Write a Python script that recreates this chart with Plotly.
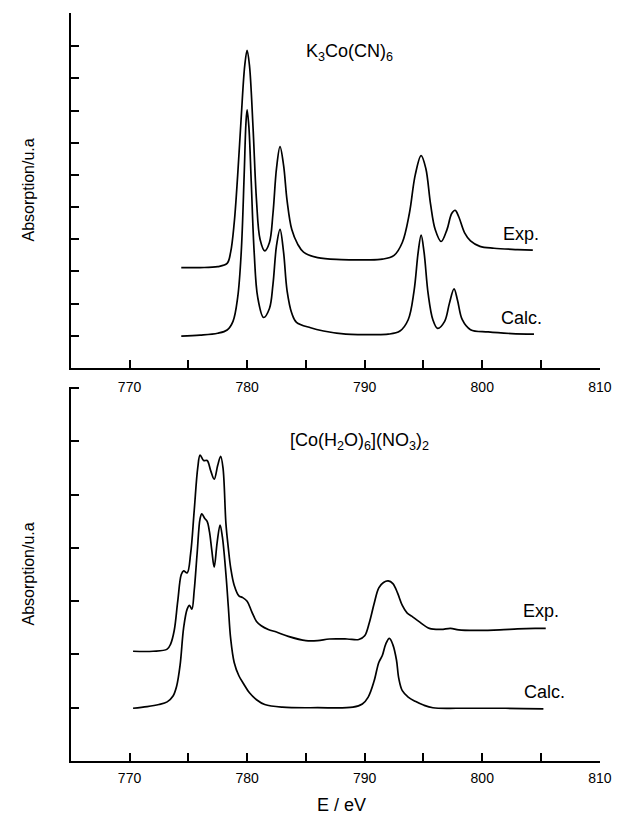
import plotly.graph_objects as go

# ---------------- data ----------------
# Top panel: K3Co(CN)6
top_exp_e = [774.4, 776, 777.5, 778.3, 778.6, 778.9, 779.2, 779.5, 779.8, 780.0, 780.2, 780.5, 780.8, 781.1,
             781.5, 781.9, 782.2, 782.5, 782.8, 783.1, 783.4, 783.8, 784.3, 784.8, 786, 788, 790, 791.5,
             792.5, 793.2, 793.8, 794.3, 794.8, 795.2, 795.6, 796.0, 796.5, 797.0, 797.4, 797.7, 798.0,
             798.5, 799.0, 799.8, 801, 803, 804.3]
top_exp_a = [3.12, 3.12, 3.15, 3.25, 3.6, 4.5, 6.0, 7.8, 9.4, 9.87, 9.4, 7.5, 5.2, 4.0,
             3.64, 3.9, 4.8, 6.2, 6.88, 6.3, 5.2, 4.3, 3.85, 3.6, 3.43, 3.37, 3.36, 3.38,
             3.5, 3.9, 4.8, 6.0, 6.6, 6.2, 5.1, 4.3, 3.93, 4.3, 4.8, 4.9, 4.7,
             4.2, 3.95, 3.78, 3.72, 3.68, 3.66]

top_calc_e = [774.4, 776, 777.5, 778.3, 778.8, 779.2, 779.5, 779.75, 779.9, 780.0, 780.15, 780.35, 780.6,
              780.9, 781.4, 781.9, 782.2, 782.5, 782.8, 783.1, 783.4, 783.8, 784.2, 785.4, 786.5, 788.4,
              790, 792, 793, 793.7, 794.2, 794.55, 794.8, 795.05, 795.4, 795.8, 796.2, 796.8, 797.2,
              797.6, 797.9, 798.3, 799.0, 800.5, 802.5, 804.4]
top_calc_a = [0.99, 1.02, 1.08, 1.18, 1.45, 2.2, 3.6, 6.0, 7.6, 8.02, 7.5, 5.8, 3.6,
              2.2, 1.57, 1.85, 2.6, 3.8, 4.31, 3.6, 2.4, 1.7, 1.42, 1.25, 1.15, 1.05,
              1.04, 1.05, 1.15, 1.5, 2.4, 3.6, 4.13, 3.6, 2.3, 1.5, 1.23, 1.45, 2.0,
              2.46, 2.1, 1.5, 1.19, 1.12, 1.07, 1.05]

# Bottom panel: [Co(H2O)6](NO3)2
bot_exp_e = [770.3, 772.0, 773.2, 773.5, 773.8, 774.1, 774.4, 774.6, 774.9, 775.2, 775.5, 775.8, 776.0,
             776.3, 776.6, 776.9, 777.2, 777.5, 777.75, 777.95, 778.2, 778.4, 778.6, 778.9, 779.3, 779.6,
             780.0, 780.4, 780.8, 781.2, 781.8, 782.5, 783.5, 785.0, 786.0, 787.0, 788.5, 789.5, 790.0,
             790.4, 790.8, 791.2, 791.6, 792.0, 792.4, 792.8, 793.2, 793.6, 794.0, 794.6, 795.5, 796.5,
             797.3, 798.0, 799.5, 801.5, 803.0, 804.5, 805.4]
bot_exp_a = [2.06, 2.06, 2.1, 2.2, 2.45, 3.0, 3.5, 3.57, 3.53, 3.9, 4.7, 5.5, 5.74,
             5.64, 5.64, 5.45, 5.29, 5.55, 5.72, 5.5, 4.45, 4.0, 3.63, 3.3, 3.1, 3.07,
             3.0, 2.8, 2.62, 2.54, 2.47, 2.42, 2.34, 2.26, 2.26, 2.29, 2.29, 2.28, 2.35,
             2.6, 2.95, 3.25, 3.35, 3.38, 3.33, 3.15, 2.92, 2.78, 2.72, 2.62, 2.49, 2.47,
             2.49, 2.46, 2.45, 2.46, 2.48, 2.49, 2.49]

bot_calc_e = [770.3, 771.5, 772.5, 773.2, 773.7, 774.0, 774.3, 774.6, 774.9, 775.1, 775.3, 775.5, 775.75,
              776.0, 776.15, 776.4, 776.6, 776.8, 777.0, 777.2, 777.45, 777.7, 777.9, 778.2, 778.4, 778.6,
              778.9, 779.3, 779.7, 780.2, 780.8, 781.5, 783.0, 786.0, 789.0, 789.8, 790.3, 790.8, 791.2,
              791.5, 791.8, 792.1, 792.4, 792.7, 792.9, 793.2, 793.7, 794.3, 795.0, 795.8, 798.0, 802.0,
              805.2]
bot_calc_a = [0.99, 1.02, 1.06, 1.11, 1.22, 1.4, 1.8, 2.5, 2.85, 2.92, 2.85, 3.2, 3.9,
              4.55, 4.64, 4.55, 4.5, 4.3, 3.95, 3.64, 4.1, 4.43, 4.2, 3.5, 2.9, 2.3,
              1.85, 1.6, 1.45, 1.28, 1.15, 1.06, 1.01, 1.0, 1.01, 1.07, 1.2, 1.5, 1.85,
              1.98, 2.2, 2.3, 2.18, 1.9, 1.55, 1.32, 1.2, 1.12, 1.05, 1.0, 0.99, 0.99,
              0.98]

x_tick_vals = [770, 780, 790, 800, 810]
x_tick_text = ["770", "780", "790", "800", "810"]

# ---------------- figure ----------------
W, H = 635, 815
fig = go.Figure()
line = dict(color="black", width=1.7)
fig.add_trace(go.Scatter(x=top_exp_e, y=top_exp_a, mode="lines", line=line, line_shape="spline",
                         xaxis="x", yaxis="y", showlegend=False))
fig.add_trace(go.Scatter(x=top_calc_e, y=top_calc_a, mode="lines", line=line, line_shape="spline",
                         xaxis="x", yaxis="y", showlegend=False))
fig.add_trace(go.Scatter(x=bot_exp_e, y=bot_exp_a, mode="lines", line=line, line_shape="spline",
                         xaxis="x2", yaxis="y2", showlegend=False))
fig.add_trace(go.Scatter(x=bot_calc_e, y=bot_calc_a, mode="lines", line=line, line_shape="spline",
                         xaxis="x2", yaxis="y2", showlegend=False))

xdom = [72 / W, 611 / W]
top_dom = [1 - 368 / H, 1 - 13 / H]
bot_dom = [1 - 761 / H, 1 - 387 / H]

FONT = "Liberation Sans, Arial"
tickfont = dict(family=FONT, size=14, color="black")
xcommon = dict(range=[765, 810.05], tickvals=x_tick_vals, ticktext=x_tick_text,
               ticks="inside", ticklen=8, tickwidth=1.5, tickcolor="black",
               minor=dict(dtick=5, tick0=765, ticks="inside", ticklen=8, tickwidth=1.5, tickcolor="black"),
               showline=True, linecolor="black", linewidth=2, showgrid=False, zeroline=False,
               tickfont=tickfont, domain=xdom, fixedrange=True)
ycommon = dict(ticks="inside", ticklen=8, tickwidth=1.5, tickcolor="black", dtick=1, tick0=0,
               showticklabels=False, showline=True, linecolor="black", linewidth=2,
               showgrid=False, zeroline=False, fixedrange=True)

fig.update_layout(
    width=W, height=H, margin=dict(l=0, r=0, t=0, b=0),
    paper_bgcolor="white", plot_bgcolor="white",
    xaxis=dict(**xcommon, anchor="y", ticklabelstandoff=5),
    yaxis=dict(**ycommon, range=[0, 11.03], domain=top_dom, anchor="x"),
    xaxis2=dict(**xcommon, anchor="y2", ticklabelstandoff=3),
    yaxis2=dict(**ycommon, range=[0, 7.02], domain=bot_dom, anchor="x2"),
)

lab = dict(family=FONT, size=18, color="black")
ylab = dict(family=FONT, size=16, color="black")
ann = [
    dict(x=788.75, y=9.8, xref="x", yref="y", text="K<sub>3</sub>Co(CN)<sub>6</sub>", showarrow=False, font=lab),
    dict(x=803.3, y=4.17, xref="x", yref="y", text="Exp.", showarrow=False, font=lab),
    dict(x=803.3, y=1.54, xref="x", yref="y", text="Calc.", showarrow=False, font=lab),
    dict(x=789.6, y=6.0, xref="x2", yref="y2",
         text="[Co(H<sub>2</sub>O)<sub>6</sub>](NO<sub>3</sub>)<sub>2</sub>", showarrow=False, font=lab),
    dict(x=805.0, y=2.82, xref="x2", yref="y2", text="Exp.", showarrow=False, font=lab),
    dict(x=805.3, y=1.29, xref="x2", yref="y2", text="Calc.", showarrow=False, font=lab),
    dict(x=28 / W, y=1 - 190 / H, xref="paper", yref="paper", text="Absorption/u.a", textangle=-90,
         xanchor="center", yanchor="middle", showarrow=False, font=ylab),
    dict(x=28 / W, y=1 - 574 / H, xref="paper", yref="paper", text="Absorption/u.a", textangle=-90,
         xanchor="center", yanchor="middle", showarrow=False, font=ylab),
    dict(x=348 / W, y=1 - 805 / H, xref="paper", yref="paper", text="E / eV",
         xanchor="center", yanchor="middle", showarrow=False, font=dict(family=FONT, size=18, color="black")),
]
fig.update_layout(annotations=ann)

fig.write_html("out.html")
